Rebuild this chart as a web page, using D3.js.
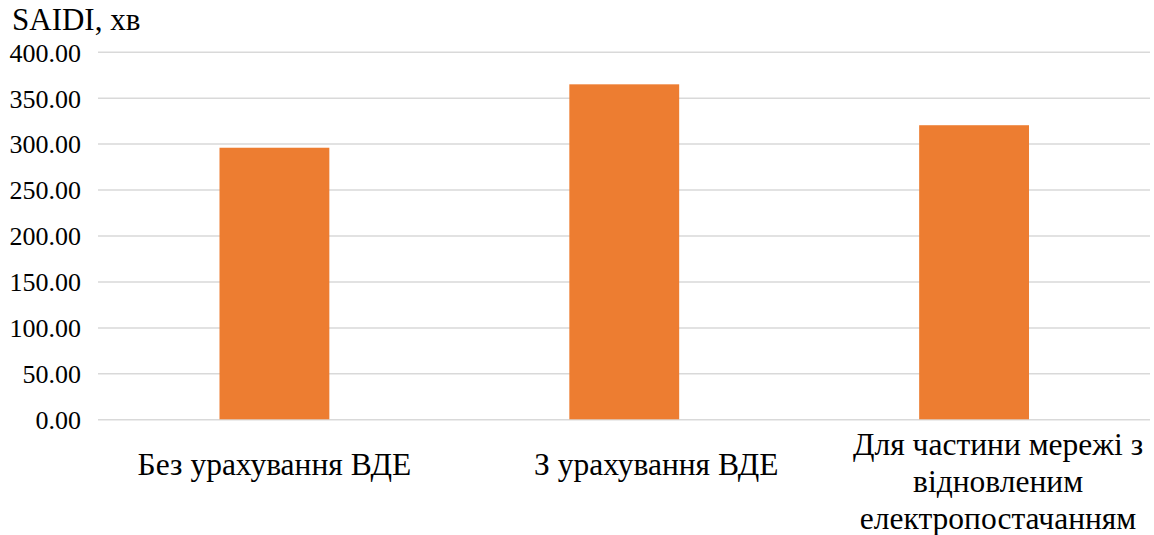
<!DOCTYPE html>
<html><head><meta charset="utf-8">
<script src="https://cdn.jsdelivr.net/npm/d3@7"></script>
<style>body{margin:0;background:#fff}svg{display:block}</style>
</head><body>
<script>
const categories = [
  ["Без урахування ВДЕ"],
  ["З урахування ВДЕ"],
  ["Для частини мережі з", "відновленим", "електропостачанням"]
];
const values = [295.5, 364.5, 320];
const tickValues = [0, 50, 100, 150, 200, 250, 300, 350, 400];
const yTitle = "SAIDI, хв";

const W = 1154, H = 535;
const font = "Liberation Serif";
const svg = d3.select("body").append("svg").attr("width", W).attr("height", H)
  .style("font-family", font);

const x = d3.scaleBand().domain(d3.range(categories.length)).range([99.5, 1149]).paddingInner(0.686).paddingOuter(0.343);
const y = d3.scaleLinear().domain([0, 400]).range([419.3, 51.7]);

// gridlines + tick labels
const yAxis = d3.axisLeft(y).tickValues(tickValues).tickSize(-(1150 - 98)).tickFormat(d3.format(".2f")).tickPadding(17);
const ga = svg.append("g").attr("transform", "translate(98,0)").call(yAxis);
ga.attr("font-family", font).attr("font-size", 26);
ga.select(".domain").remove();
ga.selectAll(".tick line").attr("stroke", "#d9d9d9").attr("stroke-width", 1.5);
ga.selectAll(".tick text").style("font-family", font).style("font-size", "26px").attr("fill", "#000").attr("dy", "0.36em");

// bars
svg.append("g").selectAll("rect").data(values).join("rect")
  .attr("x", (d, i) => x(i))
  .attr("width", x.bandwidth())
  .attr("y", d => y(d))
  .attr("height", d => y(0) - y(d))
  .attr("fill", "#ED7D31");

// category labels
const labelShift = [0, 32, 24];
const lineH = 37;
const lab = svg.append("g").selectAll("text").data(categories).join("text")
  .style("font-family", font).style("font-size", "31.5px").attr("fill", "#000")
  .attr("text-anchor", "middle")
  .attr("transform", (d, i) => `translate(${x(i) + x.bandwidth() / 2 + labelShift[i]},${d.length > 1 ? 455 : 474.5})`);
lab.selectAll("tspan").data(d => d).join("tspan")
  .attr("x", 0).attr("y", (d, j) => j * lineH).text(d => d);

// title
svg.append("text").attr("x", 12).attr("y", 29.5)
  .style("font-family", font).style("font-size", "31px").attr("fill", "#000").text(yTitle);
</script>
</body></html>
